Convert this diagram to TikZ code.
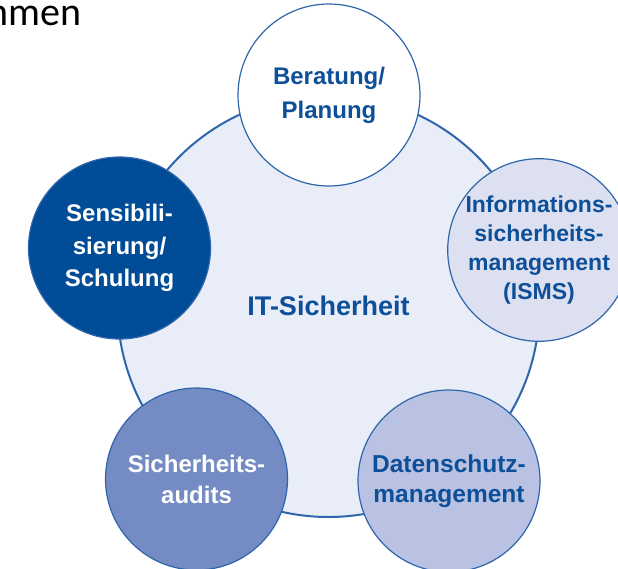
\documentclass[tikz,border=0pt]{standalone}
\usepackage{fontspec}
\setmainfont{Liberation Sans}
\newfontfamily\titlefont{Carlito}
\definecolor{itdark}{RGB}{0,76,151}
\definecolor{itline}{RGB}{47,102,171}
\definecolor{ittext}{RGB}{13,79,152}
\definecolor{itbg}{RGB}{232,237,248}
\definecolor{itpale}{RGB}{220,224,240}
\definecolor{itmid}{RGB}{185,194,226}
\definecolor{itaudit}{RGB}{116,139,195}

\begin{document}
\begin{tikzpicture}[x=1pt,y=-1pt,
  topic/.style={circle,draw=itline,line width=1.2pt,minimum size=182pt,inner sep=0pt,align=center,text=ittext}]
  \useasboundingbox (0,0) rectangle (618,568);
  \clip (0,0) rectangle (618,568);
  \node[anchor=base east,inner sep=0pt,font=\titlefont\fontsize{40}{40}\selectfont] (title) at (81.5,25) {hmen};
  \node[circle,draw=itline,line width=2pt,fill=itbg,minimum size=422pt,inner sep=0pt,text=ittext,
    font=\bfseries\fontsize{27}{27}\selectfont] (it) at (328.5,306) {IT-Sicherheit};
  \node[topic,fill=white,font=\bfseries\fontsize{24}{34}\selectfont] (plan) at (329,95) {Beratung/\\Planung};
  \node[topic,fill=itpale,font=\bfseries\fontsize{23}{29}\selectfont] (isms) at (539,250) {Informations-\\sicherheits-\\management\\(ISMS)};
  \node[topic,fill=itdark,text=white,font=\bfseries\fontsize{24}{32.5}\selectfont] (schulung) at (119.5,248) {Sensibili-\\sierung/\\Schulung};
  \node[topic,fill=itaudit,text=white,font=\bfseries\fontsize{24}{31}\selectfont] (audit) at (196.5,479) {Sicherheits-\\audits};
  \node[topic,fill=itmid,font=\bfseries\fontsize{24.5}{30}\selectfont] (daten) at (449,481) {Datenschutz-\\management};
\end{tikzpicture}
\end{document}
